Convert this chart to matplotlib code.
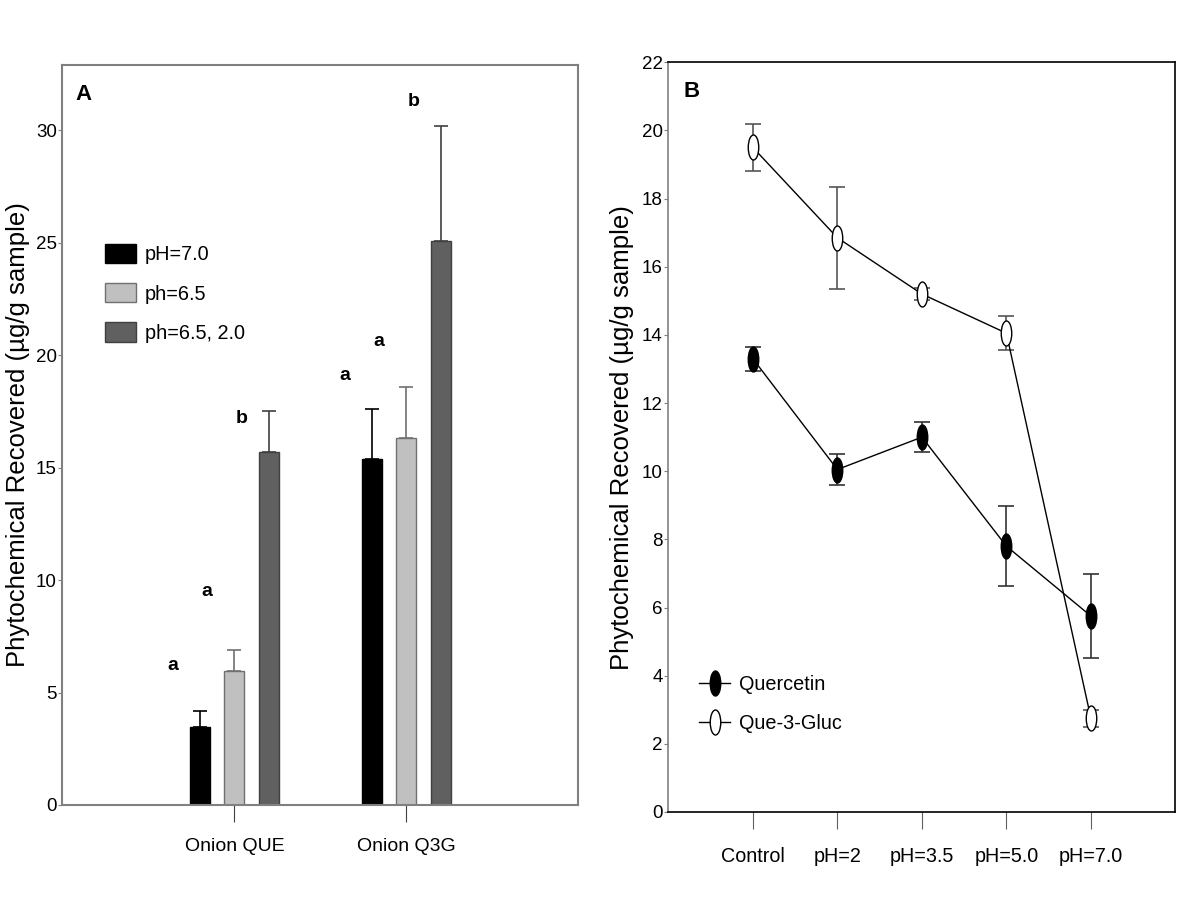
import matplotlib.pyplot as plt
import numpy as np
from matplotlib.path import Path
from matplotlib.patches import Patch
from matplotlib.lines import Line2D

plt.rcParams['font.family'] = ['Liberation Sans', 'DejaVu Sans']

# panel A data
groups = ["Onion QUE", "Onion Q3G"]
series_a = ["pH=7.0", "ph=6.5", "ph=6.5, 2.0"]
vals_a = [[3.45, 15.4], [5.95, 16.3], [15.7, 25.1]]
err_a = [[0.75, 2.2], [0.95, 2.3], [1.8, 5.1]]
letters_a = [["a", "a"], ["a", "a"], ["b", "b"]]
letter_y = [[6.2, 19.1], [9.5, 20.6], [17.2, 31.3]]
colors_a = ["#000000", "#c0c0c0", "#606060"]
edges_a = ["#000000", "#707070", "#404040"]

# panel B data
conds = ["Control", "pH=2", "pH=3.5", "pH=5.0", "pH=7.0"]
quercetin = [13.3, 10.05, 11.0, 7.8, 5.75]
quercetin_err = [0.35, 0.45, 0.45, 1.17, 1.22]
q3g = [19.5, 16.85, 15.2, 14.05, 2.75]
q3g_err = [0.7, 1.5, 0.17, 0.5, 0.25]

fig = plt.figure(figsize=(12, 9), dpi=100)

# ---- panel A
axA = fig.add_axes([0.052, 0.1056, 0.43, 0.822])
x = np.arange(len(groups))
w = 0.117
offs = [-0.2, 0.0, 0.2]
for i in range(3):
    axA.bar(x + offs[i], vals_a[i], width=w, color=colors_a[i],
            edgecolor=edges_a[i], linewidth=1, label=series_a[i], zorder=2)
    axA.errorbar(x + offs[i], vals_a[i], yerr=[[0, 0], err_a[i]], fmt='none',
                 ecolor=edges_a[i] if i else '#000000', elinewidth=1.2,
                 capsize=5, capthick=1.2, zorder=3)
    for j in range(2):
        axA.text(x[j] + offs[i] - 0.16, letter_y[i][j], letters_a[i][j],
                 ha='center', va='center', fontsize=14, fontweight='bold')
axA.set_xlim(-1, 2)
axA.set_ylim(0, 32.9)
axA.set_yticks([0, 5, 10, 15, 20, 25, 30])
axA.set_xticks(x)
axA.set_xticklabels(groups, fontsize=14)
axA.tick_params(axis='y', labelsize=13.5, length=3, color='#808080', pad=1)
axA.tick_params(axis='x', length=12, color='#404040', pad=12)
for s in axA.spines.values():
    s.set_color('#808080')
    s.set_linewidth(1.5)
axA.set_ylabel("Phytochemical Recovered (µg/g sample)", fontsize=18.5, labelpad=4)
axA.text(0.025, 0.975, "A", transform=axA.transAxes, fontsize=16,
         fontweight='bold', ha='left', va='top')
handles = [Patch(facecolor=colors_a[i], edgecolor=edges_a[i]) for i in range(3)]
axA.legend(handles, series_a, loc='upper left', bbox_to_anchor=(0.083, 0.758),
           frameon=False, fontsize=14.3, handlelength=1.56, handleheight=1.1,
           labelspacing=0.95, handletextpad=0.45, borderpad=0, borderaxespad=0)

# ---- panel B
axB = fig.add_axes([0.557, 0.0978, 0.4225, 0.833])
xb = np.arange(len(conds))
verts = Path.unit_circle().vertices * np.array([0.42, 1.0])
ellipse = Path(verts, Path.unit_circle().codes)
axB.errorbar(xb, quercetin, yerr=quercetin_err, color='black', lw=1,
             marker=ellipse, ms=18, mfc='black', mec='black', ecolor='#333333',
             elinewidth=1.2, capsize=6, capthick=1.2, label="Quercetin")
axB.errorbar(xb, q3g, yerr=q3g_err, color='black', lw=1,
             marker=ellipse, ms=18, mfc='white', mec='black', ecolor='#555555',
             elinewidth=1.2, capsize=6, capthick=1.2, label="Que-3-Gluc")
axB.set_xlim(-1, 5)
axB.set_ylim(0, 22)
axB.set_yticks(range(0, 23, 2))
axB.set_xticks(xb)
axB.set_xticklabels(conds, fontsize=14.2)
axB.tick_params(axis='y', labelsize=13.5, length=3, color='#808080', pad=1)
axB.tick_params(axis='x', length=12, color='#606060', pad=13)
for s in axB.spines.values():
    s.set_color('black')
    s.set_linewidth(1.2)
axB.spines['left'].set_color('#808080')
axB.set_ylabel("Phytochemical Recovered (µg/g sample)", fontsize=18.5, labelpad=6)
axB.text(0.03, 0.975, "B", transform=axB.transAxes, fontsize=16,
         fontweight='bold', ha='left', va='top')
hq = Line2D([], [], color='black', lw=1, marker=ellipse, ms=18, mfc='black', mec='black')
hg = Line2D([], [], color='black', lw=1, marker=ellipse, ms=18, mfc='white', mec='black')
axB.legend([hq, hg], ["Quercetin", "Que-3-Gluc"], loc='upper left',
           bbox_to_anchor=(0.061, 0.183), frameon=False, fontsize=14.3,
           handlelength=1.56, handletextpad=0.45, labelspacing=1.0,
           borderpad=0, borderaxespad=0)

fig.savefig("out.png", dpi=100)
